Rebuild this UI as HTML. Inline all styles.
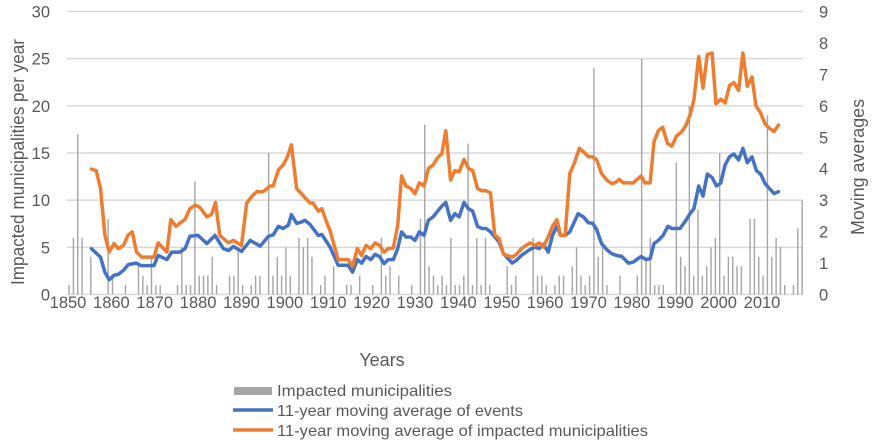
<!DOCTYPE html>
<html><head><meta charset="utf-8"><style>
html,body{margin:0;padding:0;background:#fff;}
svg{display:block;font-family:"Liberation Sans",sans-serif;}
</style></head><body>
<svg id="chart" width="878" height="445" viewBox="0 0 878 445" xmlns="http://www.w3.org/2000/svg">
<g id="grid"></g>
<g id="bars"></g>
<g id="lines"></g>
<g id="axes"></g>
<text transform="translate(24,162) rotate(-90)" text-anchor="middle" font-size="18" fill="#595959" textLength="246" lengthAdjust="spacingAndGlyphs">Impacted municipalities per year</text>
<text transform="translate(864,167) rotate(-90)" text-anchor="middle" font-size="18" fill="#595959" textLength="136" lengthAdjust="spacingAndGlyphs">Moving averages</text>
<text x="382" y="366" text-anchor="middle" font-size="18" fill="#595959">Years</text>
<g>
<g>
<rect x="234" y="387" width="38" height="8" fill="#a5a5a5"/>
<text x="277" y="396" font-size="16" fill="#595959" textLength="175" lengthAdjust="spacingAndGlyphs">Impacted municipalities</text></g>
<g>
<line x1="233" y1="410" x2="273" y2="410" stroke="#4472c4" stroke-width="3.5"/>
<text x="277" y="416" font-size="16" fill="#595959" textLength="246" lengthAdjust="spacingAndGlyphs">11-year moving average of events</text></g>
<g>
<line x1="233" y1="430" x2="273" y2="430" stroke="#ed7d31" stroke-width="3.5"/>
<text x="277" y="436" font-size="16" fill="#595959" textLength="371" lengthAdjust="spacingAndGlyphs">11-year moving average of impacted municipalities</text></g>
</g>
</svg>
<script>
const barYears=[1850,1851,1852,1853,1855,1859,1860,1863,1866,1867,1868,1869,1870,1871,1875,1876,1877,1878,1879,1880,1881,1882,1883,1884,1887,1888,1889,1890,1892,1893,1894,1896,1897,1898,1899,1900,1901,1903,1904,1905,1906,1908,1909,
1911,1914,1915,1917,1920,1922,1923,1924,1926,1929,1931,1932,1933,1934,1935,1936,1937,1938,1939,1940,1941,1942,1943,1944,1945,1946,1947,1951,1952,1953,1957,1958,1959,1960,1962,1963,1964,
1966,1967,1968,1969,1970,1971,1972,1973,1974,1977,1981,1982,1983,1984,1985,1986,1987,1990,1991,1992,1993,1994,1995,1996,1997,1998,1999,2000,2001,2002,2003,2004,2005,2007,2008,2009,2010,2011,2012,2013,2014,2015,2017,2018,2019];
const barValues=[1,6,17,6,4,8,2,1,3,2,1,4,1,1,1,5,1,1,12,2,2,2,4,1,2,2,5,1,1,2,2,15,2,4,2,5,2,6,5,6,4,1,2,
3,1,1,2,1,6,2,3,2,1,8,18,3,2,1,2,1,6,1,1,2,16,1,6,1,6,1,3,1,2,6,2,2,1,1,2,2,
3,5,2,1,2,24,4,5,1,2,2,25,4,6,1,1,1,14,4,3,20,2,9,2,3,5,6,15,2,4,4,3,3,8,8,4,2,19,4,6,5,1,1,7,10];
const eventYears=[1855.4,1857.5,1858.5,1859.5,1860.6,1861.6,1862.8,1863.9,1865.7,1866.8,1869.8,1870.8,1872.8,1873.9,1875.8,1877,1878.1,1880,1882,1883.9,1885.8,1887,1888.1,1890,1892,1894.3,1896.2,1897.3,1898.5,1899.6,1900.8,1901.5,1902.7,1903.9,1904.6,1905.8,1907.7,1908.5,1910.4,1912.3,1914.6,1915.6,1916.7,1917.7,1918.7,1919.8,1920.8,1921.8,1922.9,1923.8,1925,1926,1926.9,1927.9,1929,1930,1931,1932.1,1933.1,1934.2,1935.1,1936.2,1937.1,1938.2,1939.2,1940.2,1941.3,1942.3,1943.3,1944.4,1945.4,1946.4,1947.4,1948.4,1949.4,1950.4,1952.4,1953.4,1954.5,1956.5,1957.7,1958.6,1959.6,1960.7,1961.7,1962.7,1963.6,1964.6,1965.7,1967.6,1968.8,1970,1971,1971.9,1973,1974.2,1975.3,1976.5,1977.7,1979.2,1980.3,1982.1,1983.3,1984.2,1985.1,1986.1,1987.2,1988.3,1989.2,1991.1,1992.2,1993.4,1994.3,1995.4,1996.4,1997.4,1998.5,1999.5,2000.5,2001.5,2002.5,2003.5,2004.6,2005.6,2006.6,2007.7,2008.7,2009.7,2010.7,2011.7,2012.8,2013.8];
const eventValues=[1.46,1.19,0.71,0.47,0.61,0.64,0.77,0.95,1.0,0.92,0.92,1.24,1.11,1.35,1.35,1.46,1.85,1.88,1.62,1.88,1.46,1.40,1.53,1.37,1.72,1.54,1.85,1.90,2.17,2.10,2.20,2.54,2.26,2.31,2.36,2.23,1.88,1.91,1.51,0.93,0.93,0.71,1.11,1.0,1.21,1.11,1.28,1.21,0.98,1.11,1.11,1.46,1.99,1.83,1.83,1.72,1.99,1.88,2.36,2.47,2.63,2.81,2.93,2.36,2.57,2.47,2.93,2.73,2.65,2.17,2.10,2.10,1.99,1.83,1.67,1.30,1.0,1.09,1.24,1.43,1.51,1.46,1.60,1.35,1.88,2.17,1.88,1.88,1.99,2.57,2.47,2.28,2.26,2.06,1.62,1.43,1.30,1.24,1.21,1.0,1.03,1.21,1.11,1.14,1.62,1.72,1.88,2.17,2.10,2.10,2.31,2.57,2.73,3.45,3.13,3.83,3.72,3.45,3.55,4.12,4.38,4.47,4.28,4.65,4.19,4.38,3.94,3.83,3.53,3.37,3.21,3.27];
const muniYears=[1855.4,1856.5,1857.5,1858.5,1859.5,1860.6,1861.6,1862.8,1863.8,1864.8,1865.8,1867,1869.8,1870.8,1872.8,1873.7,1874.9,1877,1878.1,1879.3,1880.4,1882,1883.1,1884,1885,1887,1888.1,1890,1891.2,1892.3,1893.5,1895,1896.6,1897.3,1898.5,1899.6,1900.6,1901.5,1902.7,1903.9,1905.8,1906.5,1907.7,1908.5,1909.6,1910.4,1912.3,1914.6,1915.6,1916.7,1917.7,1918.7,1919.8,1920.8,1921.8,1922.9,1923.8,1925,1926,1926.9,1927.9,1929,1930,1931,1932.1,1933.1,1934.2,1935.1,1936.2,1937.1,1938.2,1939.2,1940.2,1941.3,1942.3,1943.3,1944.4,1945.4,1946.4,1947.4,1948.4,1949.4,1950.4,1952.4,1953.4,1954.5,1956.5,1957.7,1958.6,1959.6,1960.7,1961.7,1962.7,1963.6,1964.6,1965.7,1966.7,1967.9,1968.8,1970,1971,1971.9,1973,1974.2,1975.3,1976.1,1977.1,1978,1980.3,1982.1,1983,1984.2,1985.1,1986.1,1987.1,1988.2,1989.2,1990.3,1991.5,1992.5,1993.4,1994.3,1995.4,1996.4,1997.4,1998.5,1999.4,2000.5,2001.5,2002.5,2003.5,2004.6,2005.6,2006.6,2007.7,2008.6,2009.7,2010.7,2011.7,2012.8,2013.8];
const muniValues=[3.99,3.94,3.37,1.88,1.35,1.62,1.46,1.56,1.88,1.99,1.35,1.19,1.19,1.64,1.35,2.38,2.17,2.39,2.73,2.84,2.77,2.47,2.55,2.93,1.88,1.64,1.72,1.56,2.91,3.11,3.27,3.27,3.45,3.45,3.96,4.12,4.38,4.76,3.37,3.19,2.91,2.91,2.65,2.73,2.31,2.04,1.11,1.11,0.89,1.46,1.24,1.56,1.46,1.64,1.56,1.35,1.46,1.48,2.20,3.77,3.45,3.37,3.21,3.55,3.45,4.01,4.12,4.33,4.49,5.21,3.64,3.94,3.90,4.30,4.01,3.94,3.37,3.30,3.30,3.23,1.88,1.78,1.28,1.19,1.28,1.46,1.64,1.56,1.64,1.51,1.83,2.17,2.38,1.88,1.88,3.85,4.17,4.65,4.54,4.38,4.38,4.28,3.85,3.64,3.53,3.55,3.66,3.55,3.55,3.77,3.55,3.55,4.86,5.21,5.32,4.81,4.72,5.04,5.18,5.39,5.71,6.19,7.57,6.56,7.63,7.68,6.06,6.21,6.09,6.64,6.74,6.49,7.68,6.62,6.92,6.0,5.77,5.43,5.29,5.18,5.39];
const leftTicks=[0,5,10,15,20,25,30];
const rightTicks=[0,1,2,3,4,5,6,7,8,9];
const xTicks=[1850,1860,1870,1880,1890,1900,1910,1920,1930,1940,1950,1960,1970,1980,1990,2000,2010];

const NS="http://www.w3.org/2000/svg";
const X0=68,PX=4.3375,Y0=294.5,TOP=11.5;
const xScale=y=>X0+(y-1850)*PX;
const yLeft=v=>Y0-(v/30)*(Y0-TOP);
const yRight=v=>Y0-(v/9)*(Y0-TOP);
function mk(tag,attrs,parent){const e=document.createElementNS(NS,tag);for(const k in attrs)e.setAttribute(k,attrs[k]);parent.appendChild(e);return e;}
const grid=document.getElementById('grid'),axes=document.getElementById('axes'),bars=document.getElementById('bars'),lines=document.getElementById('lines');
leftTicks.forEach(t=>{
  const l=mk('line',{x1:67,x2:803,y1:yLeft(t),y2:yLeft(t),stroke:'#d9d9d9','stroke-width':1.5},grid);
  
  
  const tx=mk('text',{x:50,y:yLeft(t)+6,'text-anchor':'end','font-size':16.5,fill:'#595959'},axes);
  tx.textContent=t;
  
  
});
rightTicks.forEach(t=>{
  const tx=mk('text',{x:819,y:yRight(t)+6,'text-anchor':'start','font-size':16.5,fill:'#595959'},axes);
  tx.textContent=t;
  
  
});
xTicks.forEach(t=>{
  const tx=mk('text',{x:xScale(t),y:308,'text-anchor':'middle','font-size':16.5,fill:'#595959'},axes);
  tx.textContent=t;
  
  
});
barYears.forEach((yr,i)=>{
  const x=xScale(yr+0.25);
  const r=mk('rect',{x:x-0.7,y:yLeft(barValues[i]),width:1.4,height:Y0-yLeft(barValues[i]),fill:'#a5a5a5'},bars);
  
  
});
function path(ys,vs,color,name){
  const d=ys.map((y,i)=>(i?'L':'M')+xScale(y).toFixed(1)+','+yRight(vs[i]).toFixed(1)).join('');
  const p=mk('path',{d:d,fill:'none',stroke:color,'stroke-width':3.5,'stroke-linejoin':'round','stroke-linecap':'round'},lines);
  
  
}
path(eventYears,eventValues,'#4472c4','line-events-moving-average');
path(muniYears,muniValues,'#ed7d31','line-municipalities-moving-average');
</script>
</body></html>
